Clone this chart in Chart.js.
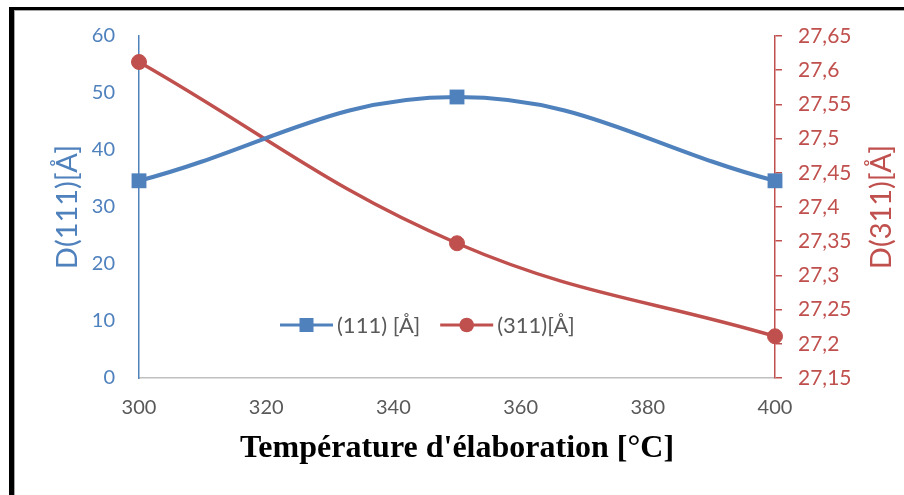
<!DOCTYPE html>
<html>
<head>
<meta charset="utf-8">
<script src="https://cdn.jsdelivr.net/npm/chart.js@4/dist/chart.umd.min.js"></script>
<style>
  html, body { margin: 0; padding: 0; background: #fff; }
  #wrap { position: relative; width: 904px; height: 495px; }
  #frame {
    position: absolute; left: 9px; top: 7px; right: 0; bottom: 0;
    border-left: 5px solid #000; border-top: 3px solid #000;
    box-shadow: inset 1px 1px 0 #a6a6a6; pointer-events: none;
  }
</style>
</head>
<body>
<div id="wrap">
  <canvas id="chart" width="904" height="495"></canvas>
  <div id="frame"></div>
</div>
<script>
// --- data ---
const temperatures = [300, 350, 400];
const d111 = [34.6, 49.3, 34.6];
const d311 = [27.612, 27.347, 27.211];
const seriesNames = ["(111) [Å]", "(311)[Å]"];

const xRange = [300, 400, 20];
const leftRange = [0, 60, 10];
const rightRange = [27.15, 27.65, 0.05];

const BLUE = "#4f81bd";
const RED = "#c0504d";
const GREY = "#595959";
const SANS = "Lato, 'Open Sans', sans-serif";

// comma as decimal separator
function frNum(v) {
  return String(Math.round(v * 100) / 100).replace(".", ",");
}

// legend drawn inside the plot area
const inlineLegend = {
  id: "inlineLegend",
  afterDatasetsDraw(chart) {
    const ctx = chart.ctx;
    const area = chart.chartArea;
    const y = area.top + 289;
    let x = area.left + 141;
    ctx.save();
    ctx.font = "22px " + SANS;
    ctx.textBaseline = "middle";
    chart.data.datasets.forEach(ds => {
      ctx.strokeStyle = ds.borderColor;
      ctx.lineWidth = 3;
      ctx.beginPath();
      ctx.moveTo(x, y);
      ctx.lineTo(x + 53, y);
      ctx.stroke();
      ctx.fillStyle = ds.borderColor;
      if (ds.pointStyle === "rect") {
        ctx.fillRect(x + 26.5 - 7, y - 7, 14, 14);
      } else {
        ctx.beginPath();
        ctx.arc(x + 26.5, y, 7.3, 0, Math.PI * 2);
        ctx.fill();
      }
      ctx.fillStyle = GREY;
      ctx.fillText(ds.label, x + 57, y + 1);
      x += 57 + ctx.measureText(ds.label).width + 20;
    });
    ctx.restore();
  }
};

// right axis title, reading bottom to top
const rightTitle = {
  id: "rightTitle",
  afterDraw(chart) {
    const ctx = chart.ctx;
    const area = chart.chartArea;
    ctx.save();
    ctx.translate(882, (area.top + area.bottom) / 2);
    ctx.rotate(-Math.PI / 2);
    ctx.font = "29px " + SANS;
    ctx.fillStyle = RED;
    ctx.textAlign = "center";
    ctx.textBaseline = "middle";
    ctx.fillText("D(311)[Å]", 0, 0);
    ctx.restore();
  }
};

new Chart(document.getElementById("chart"), {
  type: "line",
  data: {
    datasets: [
      {
        label: seriesNames[0],
        data: temperatures.map((t, i) => ({ x: t, y: d111[i] })),
        yAxisID: "y",
        borderColor: BLUE,
        backgroundColor: BLUE,
        borderWidth: 4,
        pointStyle: "rect",
        pointRadius: 10.5,
        pointBorderWidth: 0,
        tension: 0.4,
        clip: false
      },
      {
        label: seriesNames[1],
        data: temperatures.map((t, i) => ({ x: t, y: d311[i] })),
        yAxisID: "y1",
        borderColor: RED,
        backgroundColor: RED,
        borderWidth: 3.5,
        pointStyle: "circle",
        pointRadius: 7.5,
        pointBorderWidth: 1,
        tension: 0.4,
        clip: false
      }
    ]
  },
  options: {
    responsive: false,
    animation: false,
    layout: { padding: { top: 36, left: 0, right: 0, bottom: 0 } },
    plugins: { legend: { display: false }, tooltip: { enabled: false } },
    scales: {
      x: {
        type: "linear",
        min: xRange[0],
        max: xRange[1],
        afterFit(s) { s.height = 117; },
        grid: { display: false, drawTicks: false },
        border: { display: true, color: "#bfbfbf", width: 1.5 },
        ticks: {
          stepSize: xRange[2],
          padding: 18,
          color: GREY,
          font: { family: SANS, size: 20 }
        },
        title: {
          display: true,
          text: "Température d'élaboration [°C]",
          color: "#000",
          font: { family: "'Liberation Serif', 'Times New Roman', serif", size: 32, weight: "bold" },
          padding: { top: 0, bottom: 27 }
        }
      },
      y: {
        position: "left",
        min: leftRange[0],
        max: leftRange[1],
        afterFit(s) { s.width = 139; },
        grid: { display: false, drawTicks: false },
        border: { display: true, color: BLUE, width: 1.5 },
        ticks: {
          stepSize: leftRange[2],
          padding: 24,
          color: BLUE,
          font: { family: SANS, size: 20 }
        },
        title: {
          display: true,
          text: "D(111)[Å]",
          color: BLUE,
          font: { family: SANS, size: 29 },
          padding: { top: 50, bottom: 0 }
        }
      },
      y1: {
        position: "right",
        min: rightRange[0],
        max: rightRange[1],
        afterFit(s) { s.width = 129; },
        grid: { drawOnChartArea: false, drawTicks: true, tickLength: 7, color: RED, lineWidth: 1.5 },
        border: { display: true, color: RED, width: 1.5 },
        ticks: {
          stepSize: rightRange[2],
          padding: 16,
          color: RED,
          font: { family: SANS, size: 21 },
          callback: v => frNum(v)
        }
      }
    }
  },
  plugins: [inlineLegend, rightTitle]
});
</script>
</body>
</html>
